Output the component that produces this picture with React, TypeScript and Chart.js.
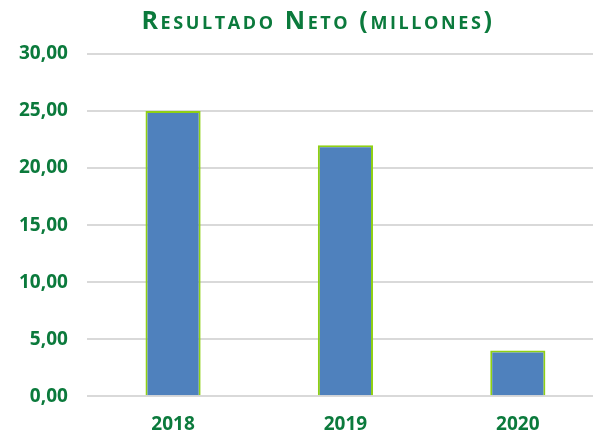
import React, { useEffect, useRef } from "react";
import { Chart, registerables } from "chart.js";

Chart.register(...registerables);

const categories = ["2018", "2019", "2020"];
const resultadoNeto = [25, 22, 4];
const yTicks = [0, 5, 10, 15, 20, 25, 30];
const titleText = "Resultado Neto (millones)";

const GREEN_TEXT = "#0B7A3C";

const smallCapsTitle = {
  id: "smallCapsTitle",
  afterDraw(chart: any) {
    const ctx = chart.ctx as CanvasRenderingContext2D;
    ctx.save();
    ctx.font = "small-caps bold 25px 'Open Sans'";
    (ctx as any).letterSpacing = "2.6px";
    ctx.fillStyle = GREEN_TEXT;
    ctx.textAlign = "center";
    ctx.textBaseline = "alphabetic";
    ctx.fillText(titleText, 318, 29);
    ctx.restore();
  },
};

export default function App() {
  const ref = useRef<HTMLCanvasElement | null>(null);

  useEffect(() => {
    if (!ref.current) return;
    const chart = new Chart(ref.current, {
      type: "bar",
      data: {
        labels: categories,
        datasets: [
          {
            label: titleText,
            data: resultadoNeto,
            backgroundColor: "#4F81BD",
            borderColor: "#8FD014",
            borderWidth: 2,
            barPercentage: 1,
            categoryPercentage: 0.32,
          },
        ],
      },
      plugins: [smallCapsTitle],
      options: {
        responsive: false,
        animation: false,
        layout: { padding: { left: 0, right: 30, top: 54, bottom: 0 } },
        plugins: {
          legend: { display: false },
          tooltip: { enabled: false },
          title: { display: false },
        },
        scales: {
          x: {
            grid: { display: false },
            border: { display: false },
            ticks: {
              color: GREEN_TEXT,
              font: { family: "'Open Sans'", size: 19, weight: "bold" },
              padding: 9,
            },
          },
          y: {
            min: yTicks[0],
            max: yTicks[yTicks.length - 1],
            afterBuildTicks: (scale: any) => {
              scale.ticks = yTicks.map((v) => ({ value: v }));
            },
            grid: { color: "#D9D9D9", lineWidth: 2, drawTicks: false },
            border: { display: false },
            ticks: {
              color: GREEN_TEXT,
              font: { family: "'Open Sans'", size: 19, weight: "bold" },
              padding: 19,
              callback: (v: any) => Number(v).toFixed(2).replace(".", ","),
            },
          },
        },
      },
    });
    return () => chart.destroy();
  }, []);

  return (
    <div style={{ position: "fixed", left: 0, top: 0, width: 593, height: 431, overflow: "hidden", background: "#fff" }}>
      <canvas ref={ref} width={634} height={445} style={{ display: "block" }} />
    </div>
  );
}
